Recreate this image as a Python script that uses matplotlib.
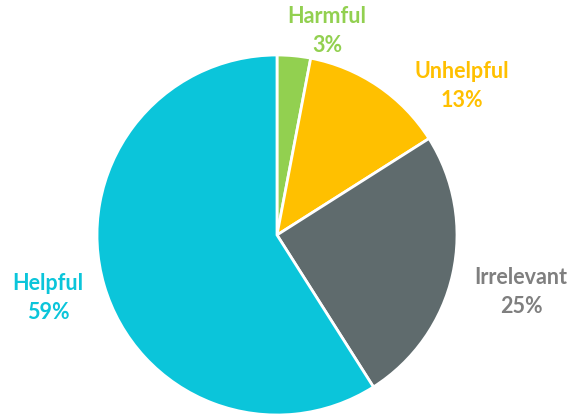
import numpy as np
import matplotlib.pyplot as plt

labels = ['Harmful', 'Unhelpful', 'Irrelevant', 'Helpful']
shares = [3, 13, 25, 59]
colors = ['#92D050', '#FFC000', '#5F6B6D', '#0BC5DA']
label_colors = ['#92D050', '#FFC000', '#7F7F7F', '#0BC5DA']
# label centres in pixels (x, y from top)
label_pos = [(327, 31), (462, 86), (521, 292), (48, 298)]

fig = plt.figure(figsize=(5.73, 4.16), dpi=100)
ax = fig.add_axes([0, 0, 1, 1])
ax.pie(shares, colors=colors, startangle=90, counterclock=False,
       center=(277, 416 - 235), radius=180,
       wedgeprops=dict(edgecolor='white', linewidth=2))
ax.set_xlim(0, 573)
ax.set_ylim(0, 416)
ax.set_aspect('equal')
ax.axis('off')

for lab, val, c, (x, y) in zip(labels, shares, label_colors, label_pos):
    ax.text(x, 416 - y, f'{lab}\n{val}%', ha='center', va='center',
            color=c, fontsize=15.5, fontweight='bold', family='Lato',
            linespacing=1.45)

fig.savefig('out.png', dpi=100)
